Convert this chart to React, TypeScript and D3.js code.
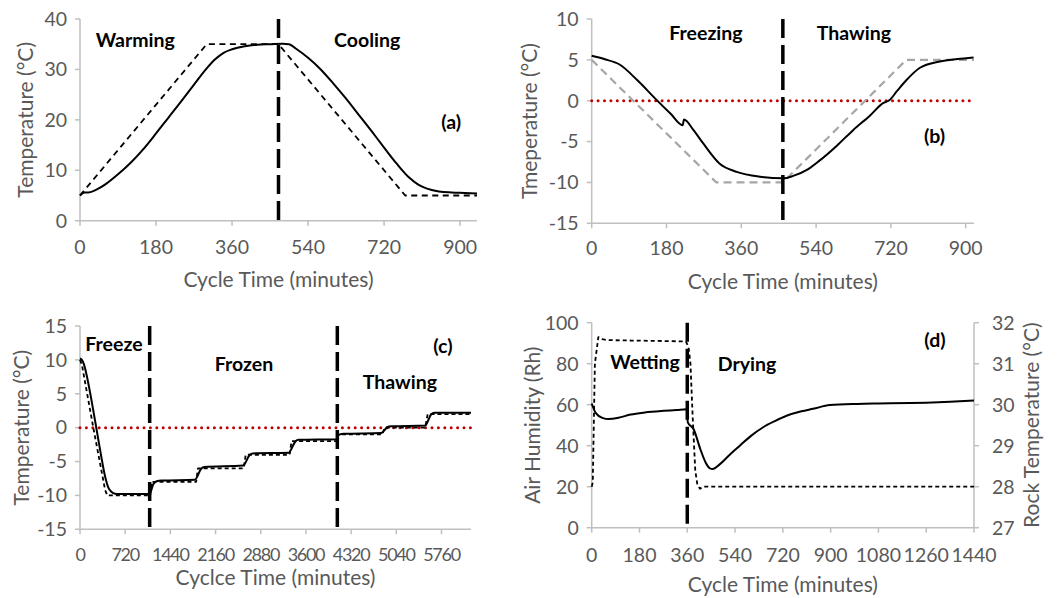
import React from 'react';
import * as d3 from 'd3';

const FONT = 'Lato, "Open Sans", sans-serif';
const AXIS_GRAY = '#bfbfbf';
const TEXT_GRAY = '#595959';

// ---------- Panel (a): warming / cooling ----------
const aTicksX = [0, 180, 360, 540, 720, 900];
const aTicksY = [0, 10, 20, 30, 40];
const aSolidT = [0, 10, 20, 40, 60, 90, 120, 150, 180, 210, 240, 270, 300, 320, 340, 360, 390, 420, 450, 480, 495, 510, 540, 570, 600, 630, 660, 690, 720, 750, 780, 800, 820, 850, 880, 910, 940];
const aSolidV = [5, 5.6, 5.6, 6.2, 7.2, 9.2, 11.5, 14.2, 17.3, 20.5, 23.7, 27, 30.2, 32, 33.3, 34, 34.6, 34.9, 35, 35.1, 35, 34.2, 32.3, 30, 27.2, 24.2, 21, 17.8, 14.5, 11.3, 8.5, 7.2, 6.4, 5.8, 5.6, 5.5, 5.4];
const aDashT = [0, 300, 470, 770, 940];
const aDashV = [5, 35, 35, 5, 5];
const aPhaseLines = [470];

// ---------- Panel (b): freezing / thawing ----------
const bTicksX = [0, 180, 360, 540, 720, 900];
const bTicksY = [-15, -10, -5, 0, 5, 10];
const bSolidT = [0, 30, 68, 110, 156, 190, 219, 222, 245, 268, 308, 349, 405, 461, 485, 520, 549, 590, 629, 670, 701, 717, 735, 757, 789, 838, 880, 919];
const bSolidV = [5.5, 5.1, 4.4, 2.5, 0.1, -1.6, -3.0, -2.3, -3.6, -5.2, -7.7, -8.7, -9.3, -9.5, -9.2, -8.4, -7.3, -5.5, -3.6, -1.8, -0.3, 0.1, 1.2, 2.5, 4.0, 4.8, 5.1, 5.3];
const bDashT = [0, 300, 460, 757, 920];
const bDashV = [5, -10, -10, 5, 5];
const bPhaseLines = [460];

// ---------- Panel (c): freeze / frozen / thawing ----------
const cTicksX = [0, 720, 1440, 2160, 2880, 3600, 4320, 5040, 5760];
const cTicksY = [-15, -10, -5, 0, 5, 10, 15];
const cSolidT = [0, 30, 60, 100, 160, 250, 330, 400, 450, 505, 560, 610, 800, 1100, 1130, 1165, 1220, 1300, 1830, 1870, 1920, 1980, 2600, 2640, 2690, 2750, 3330, 3370, 3420, 3480, 4090, 4100, 4140, 4200, 4800, 4850, 4900, 4960, 5500, 5540, 5590, 5650, 6230];
const cSolidV = [10.2, 10, 9.4, 8, 5.2, 0.5, -3.8, -7.2, -8.8, -9.5, -9.75, -9.8, -9.8, -9.8, -9.4, -8.4, -7.9, -7.8, -7.7, -7.2, -6.2, -5.8, -5.6, -5.1, -4.2, -3.8, -3.7, -3.1, -2.2, -1.8, -1.7, -1.3, -1.0, -0.9, -0.8, -0.4, 0.1, 0.2, 0.3, 0.9, 1.9, 2.2, 2.2];
const cDashT = [0, 30, 212, 400, 435, 1120, 1140, 1850, 1880, 2610, 2640, 3340, 3370, 4100, 4110, 4820, 4850, 5500, 5540, 6230];
const cDashV = [10, 9.3, 0, -9.2, -10, -10, -8, -8, -6, -6, -4, -4, -2, -2, -1, -1, 0, 0, 2, 2];
const cPhaseLines = [1110, 4100];

// ---------- Panel (d): wetting / drying ----------
const dTicksX = [0, 180, 360, 540, 720, 900, 1080, 1260, 1440];
const dTicksYLeft = [0, 20, 40, 60, 80, 100];
const dTicksYRight = [27, 28, 29, 30, 31, 32];
const dHumT = [0, 4, 12, 25, 40, 60, 150, 300, 355, 365, 372, 380, 390, 398, 408, 420, 1440];
const dHumV = [20, 22, 80, 93, 92, 91.5, 91.3, 91, 90.8, 88, 80, 55, 28, 21, 19, 20, 20];
const dRockT = [0, 15, 40, 65, 100, 147, 200, 272, 320, 358, 362, 384, 409, 430, 445, 455, 483, 520, 558, 600, 646, 690, 734, 790, 834, 897, 1000, 1080, 1200, 1260, 1350, 1440];
const dRockV = [30.03, 29.8, 29.68, 29.65, 29.68, 29.76, 29.81, 29.85, 29.87, 29.89, 29.57, 29.4, 28.92, 28.58, 28.45, 28.43, 28.55, 28.78, 29.0, 29.24, 29.45, 29.6, 29.73, 29.84, 29.9, 29.99, 30.02, 30.03, 30.04, 30.05, 30.07, 30.1];
const dPhaseLines = [360];

type Series = { t: number[]; v: number[]; color: string; width: number; dash?: string; right?: boolean; smooth?: boolean };
type Label = { text: string; t: number; v: number };

interface PanelProps {
  left: number; right: number; top: number; bottom: number;
  xDomain: [number, number]; yDomain: [number, number]; yDomainRight?: [number, number];
  xTicks: number[]; yTicks: number[]; yTicksRight?: number[];
  series: Series[]; phaseLines: number[]; zeroLine?: boolean;
  xTitle: string; yTitle: string; yTitleRight?: string;
  xTickY: number; xTitleY: number; yTitleX: number; yTitleRightX?: number;
  labels: Label[]; xTickSpacing?: number; xTickSize?: number;
}

function Panel(p: PanelProps) {
  const x = d3.scaleLinear().domain(p.xDomain).range([p.left, p.right]);
  const y = d3.scaleLinear().domain(p.yDomain).range([p.bottom, p.top]);
  const yR = p.yDomainRight ? d3.scaleLinear().domain(p.yDomainRight).range([p.bottom, p.top]) : null;
  const fs = 19.5;
  const ft = 21;
  return (
    <g>
      {/* axes */}
      <line x1={p.left} x2={p.right} y1={p.bottom} y2={p.bottom} stroke={AXIS_GRAY} strokeWidth={1.5} />
      <line x1={p.left} x2={p.left} y1={p.top} y2={p.bottom} stroke={AXIS_GRAY} strokeWidth={1.5} />
      {yR && <line x1={p.right} x2={p.right} y1={p.top} y2={p.bottom} stroke={AXIS_GRAY} strokeWidth={1.5} />}
      {p.xTicks.map(t => (
        <g key={'xt' + t}>
          <line x1={x(t)} x2={x(t)} y1={p.bottom} y2={p.bottom + 5} stroke={AXIS_GRAY} strokeWidth={1.5} />
          <text x={x(t)} y={p.xTickY} textAnchor="middle" dy="0.35em" fontSize={p.xTickSize || fs} letterSpacing={p.xTickSpacing || 0} fill={TEXT_GRAY} fontFamily={FONT}>{t}</text>
        </g>
      ))}
      {p.yTicks.map(v => (
        <g key={'yt' + v}>
          <line x1={p.left - 5} x2={p.left} y1={y(v)} y2={y(v)} stroke={AXIS_GRAY} strokeWidth={1.5} />
          <text x={p.left - 13} y={y(v)} textAnchor="end" dy="0.35em" fontSize={fs} fill={TEXT_GRAY} fontFamily={FONT}>{v}</text>
        </g>
      ))}
      {yR && p.yTicksRight && p.yTicksRight.map(v => (
        <g key={'yr' + v}>
          <line x1={p.right} x2={p.right + 5} y1={yR(v)} y2={yR(v)} stroke={AXIS_GRAY} strokeWidth={1.5} />
          <text x={p.right + 18} y={yR(v)} textAnchor="start" dy="0.35em" fontSize={fs} fill={TEXT_GRAY} fontFamily={FONT}>{v}</text>
        </g>
      ))}
      <text x={(p.left + p.right) / 2} y={p.xTitleY} textAnchor="middle" dy="0.35em" fontSize={ft} fill={TEXT_GRAY} fontFamily={FONT}>{p.xTitle}</text>
      <text transform={`translate(${p.yTitleX},${(p.top + p.bottom) / 2}) rotate(-90)`} textAnchor="middle" dy="0.35em" fontSize={ft} fill={TEXT_GRAY} fontFamily={FONT}>{p.yTitle}</text>
      {p.yTitleRight && (
        <text transform={`translate(${p.yTitleRightX},${(p.top + p.bottom) / 2}) rotate(-90)`} textAnchor="middle" dy="0.35em" fontSize={ft} fill={TEXT_GRAY} fontFamily={FONT}>{p.yTitleRight}</text>
      )}
      {/* zero line */}
      {p.zeroLine && (
        <line x1={p.left} x2={p.right} y1={y(0)} y2={y(0)} stroke="#c00000" strokeWidth={3} strokeDasharray="0,6.4" strokeLinecap="round" />
      )}
      {/* series */}
      {p.series.map((s, i) => {
        const ys = s.right && yR ? yR : y;
        const gen = d3.line<number>().x((_, j) => x(s.t[j])).y(d => ys(d)).curve(s.smooth ? d3.curveMonotoneX : d3.curveLinear);
        return <path key={'s' + i} d={gen(s.v) || ''} fill="none" stroke={s.color} strokeWidth={s.width} strokeDasharray={s.dash} strokeLinejoin="round" />;
      })}
      {/* phase lines */}
      {p.phaseLines.map(t => (
        <line key={'pl' + t} x1={x(t)} x2={x(t)} y1={p.top} y2={p.bottom + 2} stroke="#000" strokeWidth={3.5} strokeDasharray="19,7" />
      ))}
      {p.labels.map(l => (
        <text key={l.text} x={x(l.t)} y={y(l.v)} textAnchor="middle" dy="0.35em" fontSize={19.5} fontWeight="bold" fill="#000" fontFamily={FONT}>{l.text}</text>
      ))}
    </g>
  );
}

export default function App() {
  return (
    <svg width={1057} height={598} style={{ position: 'absolute', left: 0, top: 0, background: '#fff' }}>
      <rect width={1057} height={598} fill="#fff" />
      <Panel
        left={80} right={477} top={19} bottom={220.7}
        xDomain={[0, 940]} yDomain={[0, 40]}
        xTicks={aTicksX} yTicks={aTicksY}
        series={[
          { t: aDashT, v: aDashV, color: '#000', width: 1.8, dash: '6,4.5' },
          { t: aSolidT, v: aSolidV, color: '#000', width: 2, smooth: true },
        ]}
        phaseLines={aPhaseLines}
        xTitle="Cycle Time (minutes)" yTitle="Temperature (°C)"
        xTickY={247} xTitleY={280} yTitleX={26}
        labels={[
          { text: 'Warming', t: 131, v: 35.8 },
          { text: 'Cooling', t: 680, v: 35.8 },
          { text: '(a)', t: 879, v: 19.5 },
        ]}
      />
      <Panel
        left={591.7} right={974} top={19} bottom={223.3}
        xDomain={[0, 920]} yDomain={[-15, 10]}
        xTicks={bTicksX} yTicks={bTicksY}
        series={[
          { t: bDashT, v: bDashV, color: '#a6a6a6', width: 2.2, dash: '8,5' },
          { t: bSolidT, v: bSolidV, color: '#000', width: 2, smooth: true },
        ]}
        phaseLines={bPhaseLines} zeroLine
        xTitle="Cycle Time (minutes)" yTitle="Tmeperature (°C)"
        xTickY={248} xTitleY={282} yTitleX={530}
        labels={[
          { text: 'Freezing', t: 275, v: 8.3 },
          { text: 'Thawing', t: 631, v: 8.3 },
          { text: '(b)', t: 825, v: -4.3 },
        ]}
      />
      <Panel
        left={80} right={471} top={326} bottom={529.3}
        xDomain={[0, 6230]} yDomain={[-15, 15]}
        xTicks={cTicksX} yTicks={cTicksY} xTickSpacing={-1.3} xTickSize={18}
        series={[
          { t: cDashT, v: cDashV, color: '#000', width: 1.8, dash: '4,3' },
          { t: cSolidT, v: cSolidV, color: '#000', width: 2, smooth: true },
        ]}
        phaseLines={cPhaseLines} zeroLine
        xTitle="Cyclce Time (minutes)" yTitle="Temperature (°C)"
        xTickY={555} xTitleY={578} yTitleX={22}
        labels={[
          { text: 'Freeze', t: 541, v: 12.35 },
          { text: 'Frozen', t: 2612, v: 9.4 },
          { text: 'Thawing', t: 5097, v: 6.75 },
          { text: '(c)', t: 5782, v: 12.05 },
        ]}
      />
      <Panel
        left={591.7} right={974} top={322.7} bottom={527.7}
        xDomain={[0, 1440]} yDomain={[0, 100]} yDomainRight={[27, 32]}
        xTicks={dTicksX} yTicks={dTicksYLeft} yTicksRight={dTicksYRight}
        series={[
          { t: dHumT, v: dHumV, color: '#000', width: 1.8, dash: '4,3' },
          { t: dRockT, v: dRockV, color: '#000', width: 2, smooth: true, right: true },
        ]}
        phaseLines={dPhaseLines}
        xTitle="Cycle Time (minutes)" yTitle="Air Humidity (Rh)" yTitleRight="Rock Temperature (°C)"
        xTickY={555} xTitleY={585} yTitleX={533} yTitleRightX={1032}
        labels={[
          { text: 'Wetting', t: 201, v: 80.8 },
          { text: 'Drying', t: 585, v: 79.9 },
          { text: '(d)', t: 1293, v: 91.5 },
        ]}
      />
    </svg>
  );
}
